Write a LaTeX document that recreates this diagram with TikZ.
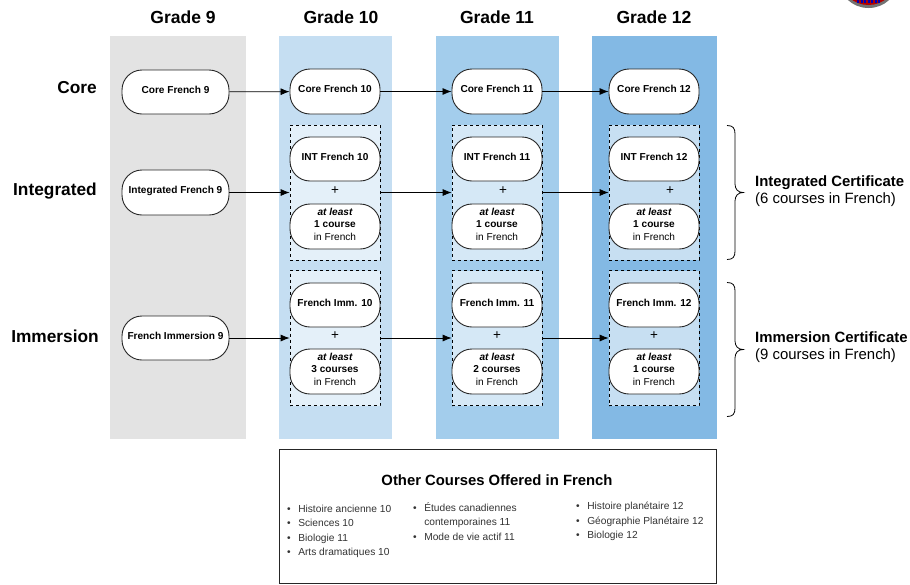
\documentclass[tikz,border=0pt]{standalone}
\usepackage{fontspec}
\usetikzlibrary{arrows.meta}
\setmainfont{Liberation Sans}
\definecolor{bandA}{RGB}{227,227,227}
\definecolor{bandB}{RGB}{197,222,242}
\definecolor{bandC}{RGB}{163,205,236}
\definecolor{bandD}{RGB}{131,185,228}
\begin{document}
\begin{tikzpicture}[x=1pt,y=-1pt,
  pill/.style={draw=black!85,fill=white,line width=0.9pt,rounded corners=20pt,minimum width=#1,align=center,inner sep=0pt,text depth=5pt,font=\fontsize{10.1}{12.4}\selectfont\bfseries},
  pill/.default=90pt,
  band/.style={draw=none,fill=#1},
  group/.style={draw=black,dashed,line width=0.7pt,fill=white,fill opacity=0.55,text opacity=1,minimum width=90pt,minimum height=135pt,inner sep=0pt},
  flow/.style={draw=black,line width=0.8pt,-{Latex[length=9pt,width=7pt]}},
  brace/.style={draw=black,line width=0.8pt},
  grade/.style={font=\fontsize{17.5}{19}\selectfont\bfseries},
  track/.style={font=\fontsize{17.3}{19}\selectfont\bfseries},
  plus/.style={font=\fontsize{13.5}{14}\selectfont,inner sep=0pt},
  cert/.style={align=left,anchor=west,inner sep=0pt,font=\fontsize{14.9}{17}\selectfont},
  lst/.style={align=left,anchor=north west,inner sep=0pt,text=black!80,font=\fontsize{10.2}{14.5}\selectfont}
]
\useasboundingbox (0,0) rectangle (910,584);
\fill[white] (0,0) rectangle (910,584);
% logo fragment
\begin{scope}
\clip (820,0) rectangle (910,12);
\fill[black!55] (868.5,-19) ellipse (29 and 27);
\fill[red!70!black] (868.5,-20) ellipse (27 and 25);
\draw[blue!70!black,line width=2.5pt,dash pattern=on 2pt off 1.5pt] (857,1.5) -- (880,1.5);
\end{scope}
% bands
\fill[band=bandA] (110,36) rectangle (246,439);
\fill[band=bandB] (279,36) rectangle (392,439);
\fill[band=bandC] (436,36) rectangle (559,439);
\fill[band=bandD] (592,36) rectangle (717,439);
% headers
\node[grade] (g9) at (183,17) {Grade 9};
\node[grade] (g10) at (341,17) {Grade 10};
\node[grade] (g11) at (497,17) {Grade 11};
\node[grade] (g12) at (654,17) {Grade 12};
\node[track] (tcore) at (77,88) {Core};
\node[track] (tint) at (55,191.5) {Integrated};
\node[track] (timm) at (55,336) {Immersion};
% grade 9
\node[pill=107pt,minimum height=44pt] (c9) at (175.5,92) {Core French 9};
\node[pill=107pt,minimum height=45pt] (i9) at (175.5,192.5) {Integrated French 9};
\node[pill=107pt,minimum height=44pt] (f9) at (175.5,338) {French Immersion 9};
% core
\node[pill,minimum height=45pt] (c10) at (335,91.5) {Core French 10};
\node[pill,minimum height=45pt] (c11) at (497,91.5) {Core French 11};
\node[pill,minimum height=45pt] (c12) at (654,91.5) {Core French 12};
% dashed groups
\foreach \n/\x in {a/335,b/497,c/654}{
  \node[group] (int\n) at (\x,192.5) {};
  \node[group] (imm\n) at (\x,338) {};
}
% integrated
\node[pill,minimum height=44pt] (i10) at (335,159) {INT French 10};
\node[pill,minimum height=44pt] (i11) at (497,159) {INT French 11};
\node[pill,minimum height=44pt] (i12) at (654,159) {INT French 12};
\node[plus] (pi10) at (335,191) {+};
\node[plus] (pi11) at (503,191) {+};
\node[plus] (pi12) at (670,191) {+};
\newcommand{\crs}[1]{{\itshape at least}\\#1\\{\mdseries in French}}
\node[pill,minimum height=45pt] (ic10) at (335,226.5) {\crs{1 course}};
\node[pill,minimum height=45pt] (ic11) at (497,226.5) {\crs{1 course}};
\node[pill,minimum height=45pt] (ic12) at (654,226.5) {\crs{1 course}};
% immersion
\node[pill,minimum height=44pt] (f10) at (335,305) {French Imm. 10};
\node[pill,minimum height=44pt] (f11) at (497,305) {French Imm. 11};
\node[pill,minimum height=44pt] (f12) at (654,305) {French Imm. 12};
\node[plus] (pf10) at (335,336) {+};
\node[plus] (pf11) at (497,336) {+};
\node[plus] (pf12) at (654,336) {+};
\node[pill,minimum height=45pt] (fc10) at (335,371.5) {\crs{3 courses}};
\node[pill,minimum height=45pt] (fc11) at (497,371.5) {\crs{2 courses}};
\node[pill,minimum height=45pt] (fc12) at (654,371.5) {\crs{1 course}};
% arrows
\draw[flow] (c9) -- (c10);
\draw[flow] (c10) -- (c11);
\draw[flow] (c11) -- (c12);
\draw[flow] (i9) -- (inta.west |- i9);
\draw[flow] (inta.east |- i9) -- (intb.west |- i9);
\draw[flow] (intb.east |- i9) -- (intc.west |- i9);
\draw[flow] (f9) -- (imma.west |- f9);
\draw[flow] (imma.east |- f9) -- (immb.west |- f9);
\draw[flow] (immb.east |- f9) -- (immc.west |- f9);
% braces
\coordinate (b1t) at (727,125.5);
\coordinate (b1m) at (743,192.5);
\coordinate (b1b) at (727,259.5);
\draw[brace] (b1t) .. controls (733,125.5) and (735,128) .. (735,134) -- (735,184) .. controls (735,189) and (738,192.5) .. (b1m) .. controls (738,192.5) and (735,196) .. (735,201) -- (735,251) .. controls (735,257) and (733,259.5) .. (b1b);
\coordinate (b2t) at (727,282.5);
\coordinate (b2m) at (743,349.5);
\coordinate (b2b) at (727,416.5);
\draw[brace] (b2t) .. controls (733,282.5) and (735,285) .. (735,291) -- (735,341) .. controls (735,346) and (738,349.5) .. (b2m) .. controls (738,349.5) and (735,353) .. (735,358) -- (735,408) .. controls (735,414) and (733,416.5) .. (b2b);
\node[cert] (ct1) at (755,191) {\textbf{Integrated Certificate}\\(6 courses in French)};
\node[cert] (ct2) at (755,347.5) {\textbf{Immersion Certificate}\\(9 courses in French)};
% other courses
\node[draw=black!85,line width=0.9pt,fill=white,minimum width=437pt,minimum height=134pt,inner sep=0pt] (other) at (497.5,516.5) {};
\node[font=\fontsize{14.85}{17}\selectfont\bfseries] (otitle) at (497,480) {Other Courses Offered in French};
\node[lst] (l1) at (287,504.5) {•\hspace{7.5pt}Histoire ancienne 10\\•\hspace{7.5pt}Sciences 10\\•\hspace{7.5pt}Biologie 11\\•\hspace{7.5pt}Arts dramatiques 10};
\node[lst] (l2) at (413,502) {•\hspace{7.5pt}Études canadiennes\\\hspace{11.1pt}contemporaines 11\\•\hspace{7.5pt}Mode de vie actif 11};
\node[lst] (l3) at (576,502) {•\hspace{7.5pt}Histoire planétaire 12\\•\hspace{7.5pt}Géographie Planétaire 12\\•\hspace{7.5pt}Biologie 12};
\end{tikzpicture}
\end{document}
